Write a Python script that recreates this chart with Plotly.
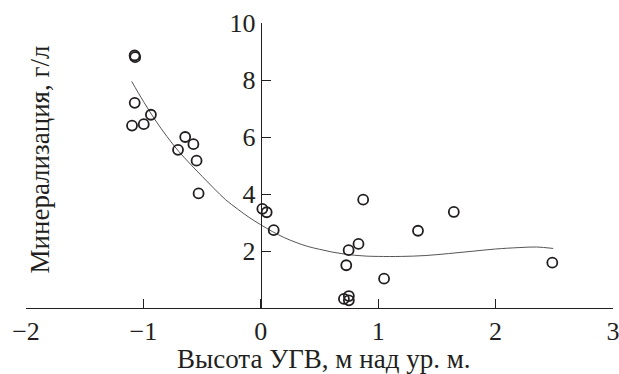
import plotly.graph_objects as go

# Observed points: groundwater level height (m) vs mineralization (g/L)
pts_x = [-1.075, -1.07, -1.074, -1.097, -0.997, -0.936, -0.644, -0.705, -0.574, -0.547, -0.530,
         0.013, 0.05, 0.11, 0.872, 0.832, 0.748, 0.728, 1.05, 0.708, 0.75, 0.75, 1.339, 1.644, 2.483]
pts_y = [8.86, 8.80, 7.20, 6.40, 6.45, 6.78, 6.00, 5.55, 5.75, 5.17, 4.02,
         3.48, 3.36, 2.73, 3.80, 2.25, 2.03, 1.50, 1.03, 0.32, 0.42, 0.27, 2.71, 3.37, 1.59]

# Fitted trend curve
fit_x = [-1.1, -1.0, -0.9, -0.8, -0.7, -0.6, -0.5, -0.4, -0.3, -0.2, -0.1, 0.0, 0.1, 0.2, 0.3,
         0.4, 0.5, 0.6, 0.7, 0.8, 0.9, 1.0, 1.2, 1.4, 1.6, 1.8, 2.0, 2.2, 2.35, 2.49]
fit_y = [7.95, 7.25, 6.60, 6.02, 5.50, 5.05, 4.62, 4.20, 3.80, 3.48, 3.18, 2.92, 2.68, 2.47, 2.30,
         2.16, 2.06, 1.97, 1.90, 1.85, 1.82, 1.81, 1.81, 1.84, 1.91, 1.99, 2.07, 2.12, 2.14, 2.09]

x_ticks = [-2, -1, 0, 1, 2, 3]
y_ticks = [2, 4, 6, 8, 10]

FONT = "Liberation Serif"
INK = "#231f20"
FS = 26

fig = go.Figure()
fig.add_trace(go.Scatter(x=fit_x, y=fit_y, mode="lines",
                         line=dict(color="#555555", width=1, shape="spline"),
                         showlegend=False, hoverinfo="skip"))
fig.add_trace(go.Scatter(x=pts_x, y=pts_y, mode="markers",
                         marker=dict(symbol="circle-open", size=10, color=INK,
                                     line=dict(width=1.8, color=INK)),
                         showlegend=False))

fig.update_layout(
    width=619, height=374,
    margin=dict(l=26, r=6, t=23, b=66, autoexpand=False),
    paper_bgcolor="white", plot_bgcolor="white",
    font=dict(family=FONT, size=FS, color=INK),
    xaxis=dict(range=[-2, 3], tickvals=x_ticks, showline=True, linecolor=INK, linewidth=1.3,
               ticks="inside", ticklen=9, tickwidth=1.3, tickcolor=INK,
               ticklabeloverflow="allow", automargin=False,
               showgrid=False, zeroline=False, tickfont=dict(size=FS, family=FONT)),
    yaxis=dict(range=[0, 10], tickvals=y_ticks, showline=True, linecolor=INK, linewidth=1.3,
               ticks="inside", ticklen=9, tickwidth=1.3, tickcolor=INK, automargin=False,
               showgrid=False, zeroline=False, anchor="free", position=0.4,
               tickfont=dict(size=FS, family=FONT)),
    annotations=[
        dict(text="Высота УГВ, м над ур. м.", xref="paper", yref="paper", x=0.5, y=-0.173,
             xanchor="center", yanchor="middle", showarrow=False, xshift=4, yshift=-2,
             font=dict(size=27, family=FONT, color=INK)),
        dict(text="Минерализация, г/л", xref="paper", yref="paper", x=0.0,
             xanchor="center", y=0.5, yanchor="middle", textangle=-90, showarrow=False,
             xshift=13, yshift=6, font=dict(size=27, family=FONT, color=INK)),
    ],
)

fig.write_html("out.html", config={"displayModeBar": False},
               post_script="document.body.style.margin='0';document.body.style.overflow='hidden';")
